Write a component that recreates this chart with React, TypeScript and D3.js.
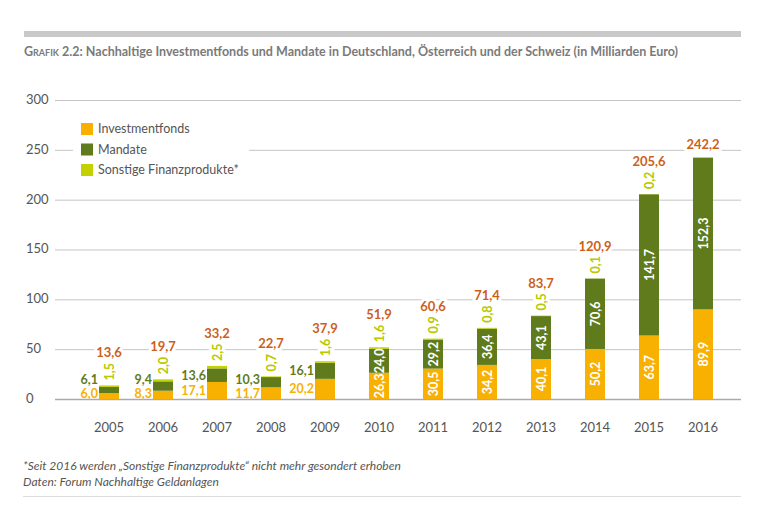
import React from "react";
import * as d3 from "d3";

const years = ["2005", "2006", "2007", "2008", "2009", "2010", "2011", "2012", "2013", "2014", "2015", "2016"];
const investmentfonds = [6.0, 8.3, 17.1, 11.7, 20.2, 26.3, 30.5, 34.2, 40.1, 50.2, 63.7, 89.9];
const mandate = [6.1, 9.4, 13.6, 10.3, 16.1, 24.0, 29.2, 36.4, 43.1, 70.6, 141.7, 152.3];
const sonstige = [1.5, 2.0, 2.5, 0.7, 1.6, 1.6, 0.9, 0.8, 0.5, 0.1, 0.2, 0];
const totals = [13.6, 19.7, 33.2, 22.7, 37.9, 51.9, 60.6, 71.4, 83.7, 120.9, 205.6, 242.2];
const yTicks = [0, 50, 100, 150, 200, 250, 300];
const legendLabels = ["Investmentfonds", "Mandate", "Sonstige Finanzprodukte*"];

const C_INV = "#F8B100";
const C_MAND = "#5F7B1B";
const C_SON = "#C4D100";
const C_SON_TXT = "#B9C800";
const C_TOT = "#CD5F1A";
const TXT = "#555";
const FONT = "Lato, 'Open Sans', sans-serif";

const fmt = (v: number) => v.toFixed(1).replace(".", ",");

export default function App() {
  const x = d3.scaleBand<string>().domain(years).range([82, 730]).paddingInner(0.63).paddingOuter(0.315);
  const y = d3.scaleLinear().domain([0, 300]).range([399, 100]);
  const bw = x.bandwidth();
  const colors = [C_INV, C_MAND, C_SON];

  const rows = years.map((yr, i) => ({ yr, inv: investmentfonds[i], mand: mandate[i], son: sonstige[i], tot: totals[i] }));
  const stack = d3.stack<any>().keys(["inv", "mand", "son"])(rows as any);

  const halo = { stroke: "#fff", strokeWidth: 6, paintOrder: "stroke" as const, strokeLinejoin: "round" as const };

  return (
    <svg width={768} height={528} style={{ position: "absolute", left: 0, top: 0, background: "#fff" }} fontFamily={FONT}>
      <rect x={24} y={31} width={717} height={6} fill="#c9c9c9" />
      <text x={24} y={56} fontSize={12.5} fontWeight={700} fill="#7a7a7a">
        <tspan style={{ fontVariant: "small-caps" }}>Grafik 2.2:</tspan>
        <tspan> Nachhaltige Investmentfonds und Mandate in Deutschland, Österreich und der Schweiz (in Milliarden Euro)</tspan>
      </text>

      {yTicks.map((t) => (
        <g key={t}>
          <line x1={55} x2={741} y1={y(t) + 0.5} y2={y(t) + 0.5} stroke={t === 0 ? "#aaa" : "#c4c4c4"} strokeWidth={t === 0 ? 1.5 : 1} />
          <text x={26} y={y(t)} dy="0.3em" fontSize={13} fill={TXT}>{t}</text>
        </g>
      ))}

      <rect x={73} y={116} width={176} height={64} fill="#fff" />
      {legendLabels.map((l, i) => (
        <g key={l} transform={`translate(81, ${129 + i * 20.5})`}>
          <rect x={0} y={-6} width={12} height={12} fill={colors[i]} />
          <text x={17} y={0} dy="0.35em" fontSize={12.5} fill={TXT}>{l}</text>
        </g>
      ))}

      {stack.map((s, k) => (
        <g key={k} fill={colors[k]}>
          {s.map((d: any, i: number) => (
            <rect key={i} x={x(years[i])} y={y(d[1])} width={bw} height={Math.max(0, y(d[0]) - y(d[1]))} />
          ))}
        </g>
      ))}

      {rows.map((r, i) => {
        const cx = (x(r.yr) as number) + bw / 2;
        const left = x(r.yr) as number;
        const top = y(r.inv + r.mand + r.son);
        const inside = r.tot > 45;
        const invC = inside ? y(r.inv / 2) : Math.min(y(r.inv / 2), y(0) - 6);
        const mandC = inside ? y(r.inv + r.mand / 2) : Math.min(y(r.inv + r.mand / 2), invC - 14);
        const totY = r.son > 0 ? top - 28 : top - 9;
        return (
          <g key={r.yr} fontWeight={700}>
            {inside ? (
              <>
                <text transform={`translate(${cx},${invC}) rotate(-90)`} textAnchor="middle" dy="0.36em" fontSize={12.5} fill="#fff">{fmt(r.inv)}</text>
                <text transform={`translate(${cx},${mandC}) rotate(-90)`} textAnchor="middle" dy="0.36em" fontSize={12.5} fill="#fff">{fmt(r.mand)}</text>
              </>
            ) : (
              <>
                <text x={left - 1} y={invC} dy="0.36em" textAnchor="end" fontSize={12.5} fill={C_INV}>{fmt(r.inv)}</text>
                <text x={left - 1} y={mandC} dy="0.36em" textAnchor="end" fontSize={12.5} fill={C_MAND}>{fmt(r.mand)}</text>
              </>
            )}
            {r.son > 0 && (
              <text transform={`translate(${cx},${top - 5}) rotate(-90)`} dy="0.36em" fontSize={12.5} fill={C_SON_TXT} {...halo}>{fmt(r.son)}</text>
            )}
            <text x={cx} y={totY} textAnchor="middle" fontSize={13} fill={C_TOT} {...halo}>{fmt(r.tot)}</text>
            <text x={cx} y={432} textAnchor="middle" fontSize={13} fontWeight={400} fill={TXT}>{r.yr}</text>
          </g>
        );
      })}

      <text x={23} y={470} fontSize={12} fontStyle="italic" fill={TXT}>*Seit 2016 werden „Sonstige Finanzprodukte“ nicht mehr gesondert erhoben</text>
      <text x={23} y={486} fontSize={12} fontStyle="italic" fill={TXT}>Daten: Forum Nachhaltige Geldanlagen</text>
      <line x1={23} x2={741} y1={496.5} y2={496.5} stroke="#ddd" strokeWidth={1} />
    </svg>
  );
}
